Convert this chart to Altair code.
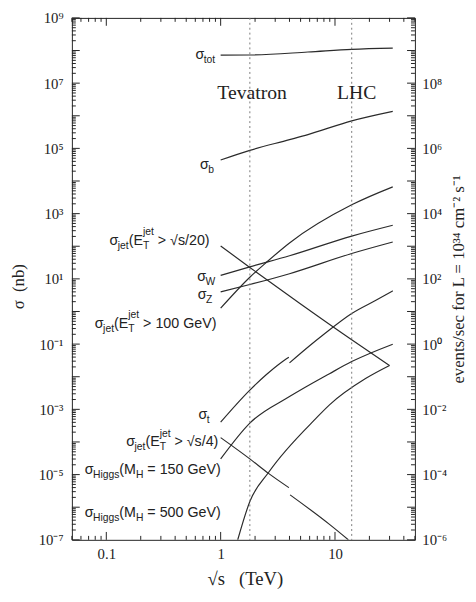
import math
import altair as alt
import pandas as pd

# ---------------- values (sqrt(s) in TeV, sigma in nb) ----------------
E_tot = [1.0, 1.8, 5.8, 14, 32]
S_tot = [7.2e7, 7.3e7, 9.0e7, 1.09e8, 1.19e8]

E_b = [1.0, 1.8, 4.0, 5.8, 14, 32]
S_b = [4.4e4, 8.7e4, 1.85e5, 2.65e5, 7.0e5, 1.37e6]

E_jet20 = [1.0, 1.8, 4.9, 14, 30]
S_jet20 = [102, 22.4, 1.78, 0.135, 0.022]

E_W = [1.0, 1.8, 4.0, 14, 32]
S_W = [12.8, 23.4, 51, 205, 440]

E_Z = [1.0, 1.8, 4.0, 14, 32]
S_Z = [4.0, 6.7, 14.4, 60, 135]

E_jet100 = [1.0, 1.8, 2.5, 4.0, 14, 32]
S_jet100 = [1.26, 11.2, 31.6, 126, 1860, 6600]

E_t_ppbar = [1.0, 1.8, 2.5, 3.3, 3.95]
S_t_ppbar = [4.06e-4, 3.89e-3, 1.15e-2, 2.56e-2, 3.94e-2]
E_t_pp = [4.0, 6.0, 8.0, 14, 23, 32]
S_t_pp = [2.66e-2, 8.9e-2, 0.20, 0.87, 2.25, 4.3]

E_H150 = [1.0, 1.8, 4.0, 8.95, 14, 32]
S_H150 = [3.03e-5, 3.8e-4, 2.46e-3, 1.24e-2, 2.91e-2, 9.93e-2]

E_jet4_ppbar = [1.0, 1.8, 2.64, 3.95]
S_jet4_ppbar = [1.36e-4, 3.03e-5, 1.07e-5, 3.98e-6]
E_jet4_pp = [4.05, 8.95, 13.1]
S_jet4_pp = [2.39e-6, 2.98e-7, 1.0e-7]

E_H500 = [1.41, 1.8, 2.64, 6.88, 8.95, 18.5, 30]
S_H500 = [1.0e-7, 1.5e-6, 1.2e-5, 5.46e-4, 1.37e-3, 8.75e-3, 2.2e-2]

# colliders
coll_names = ["Tevatron", "LHC"]
coll_E = [1.8, 14]
coll_text_E = [0.935, 10.4]
coll_text_S = [3.16e6, 3.16e6]

# curve labels: anchor (right end, baseline) in data coordinates + text parts
label_E = [0.895, 0.875, 0.80, 0.895, 0.845, 0.918, 0.80, 0.955, 1.0, 1.0]
label_S = [5.4e7, 2.3e4, 110, 8.4, 2.4, 0.32, 5.1e-4, 7.3e-5, 1.07e-5, 5.0e-7]
NB = "\u00a0"
label_parts = [
    [("σ", "main"), ("tot", "sub")],
    [("σ", "main"), ("b", "sub")],
    [("σ", "main"), ("jet", "sub"), ("(E", "main"), ("T", "sub"), ("jet", "sup"), (NB + ">" + NB + "√s/20)", "main")],
    [("σ", "main"), ("W", "sub")],
    [("σ", "main"), ("Z", "sub")],
    [("σ", "main"), ("jet", "sub"), ("(E", "main"), ("T", "sub"), ("jet", "sup"), (NB + ">" + NB + "100" + NB + "GeV)", "main")],
    [("σ", "main"), ("t", "sub")],
    [("σ", "main"), ("jet", "sub"), ("(E", "main"), ("T", "sub"), ("jet", "sup"), (NB + ">" + NB + "√s/4)", "main")],
    [("σ", "main"), ("Higgs", "sub"), ("(M", "main"), ("H", "sub"), (NB + "=" + NB + "150" + NB + "GeV)", "main")],
    [("σ", "main"), ("Higgs", "sub"), ("(M", "main"), ("H", "sub"), (NB + "=" + NB + "500" + NB + "GeV)", "main")],
]

# axis tick labels
x_tick_vals = [0.1, 1, 10]
x_tick_text = ["0.1", "1", "10"]
y_left_vals = [1e-7, 1e-5, 1e-3, 1e-1, 1e1, 1e3, 1e5, 1e7, 1e9]
y_left_text = ["10⁻⁷", "10⁻⁵", "10⁻³", "10⁻¹", "10¹", "10³", "10⁵", "10⁷", "10⁹"]
y_right_vals = [1e-6, 1e-4, 1e-2, 1e0, 1e2, 1e4, 1e6, 1e8]
y_right_text = ["10⁻⁶", "10⁻⁴", "10⁻²", "10⁰", "10²", "10⁴", "10⁶", "10⁸"]

# ---------------- layout / style ----------------
W, H = 349, 531
X_DOMAIN = [0.05, 50]
Y_DOMAIN = [1e-7, 1e9]
INK = "#222222"
SERIF = "Liberation Serif"
SANS = "Liberation Sans"
MAIN_FS, SUB_FS = 14.5, 10.5
SUB_DY, SUP_DY = 4, -10

xscale = alt.Scale(type="log", domain=X_DOMAIN, nice=False)
yscale = alt.Scale(type="log", domain=Y_DOMAIN, nice=False)


def label_expr(vals, texts):
    expr = "''"
    for v, t in reversed(list(zip(vals, texts))):
        expr = f"abs(log(datum.value)/LN10 - ({round(math.log10(v))})) < 0.1 ? '{t}' : ({expr})"
    return expr


x_axis = alt.Axis(
    values=x_tick_vals, labelExpr=label_expr(x_tick_vals, x_tick_text), ticks=False, domain=False,
    grid=False, labelFont=SERIF, labelFontSize=15, labelColor=INK, labelPadding=7,
    labelOverlap=False, labelFlush=False,
    title="√s" + NB * 3 + "(TeV)", titleFont=SERIF, titleFontSize=19, titleFontWeight="normal",
    titleColor=INK, titleX=176, titleY=45, titleBaseline="alphabetic", titleAlign="center",
)
y_axis = alt.Axis(
    values=y_left_vals, labelExpr=label_expr(y_left_vals, y_left_text), ticks=False, domain=False,
    grid=False, labelFont=SERIF, labelFontSize=15, labelColor=INK, labelPadding=9,
    labelOverlap=False, labelFlush=False,
    title="σ" + NB * 2 + "(nb)", titleFont=SERIF, titleFontSize=17, titleFontWeight="normal",
    titleColor=INK, titleX=-54, titleY=273, titleAngle=270, titleBaseline="middle", titleAlign="center",
)


def X(field):
    return alt.X(field, scale=xscale, axis=x_axis)


def Y(field):
    return alt.Y(field, scale=yscale, axis=y_axis)


# ---------------- curves ----------------
curves = [
    ("tot", E_tot, S_tot), ("b", E_b, S_b), ("jet20", E_jet20, S_jet20),
    ("W", E_W, S_W), ("Z", E_Z, S_Z), ("jet100", E_jet100, S_jet100),
    ("t_ppbar", E_t_ppbar, S_t_ppbar), ("t_pp", E_t_pp, S_t_pp),
    ("H150", E_H150, S_H150), ("jet4_ppbar", E_jet4_ppbar, S_jet4_ppbar),
    ("jet4_pp", E_jet4_pp, S_jet4_pp), ("H500", E_H500, S_H500),
]
rows = []
for name, Es, Ss in curves:
    for i, (e, s) in enumerate(zip(Es, Ss)):
        rows.append({"curve": name, "E": e, "S": s, "i": i})
df_curves = pd.DataFrame(rows)

lines = alt.Chart(df_curves).mark_line(
    color="#2b2b2b", strokeWidth=1.2, clip=True, interpolate="monotone"
).encode(x=X("E:Q"), y=Y("S:Q"), detail="curve:N", order="i:Q")

vlines = alt.Chart(pd.DataFrame({"E": coll_E})).mark_rule(
    color="#7a7a7a", strokeDash=[2, 3], strokeWidth=1
).encode(x=X("E:Q"))

ctext = alt.Chart(pd.DataFrame({"E": coll_text_E, "S": coll_text_S, "t": coll_names})).mark_text(
    align="left", baseline="alphabetic", font=SERIF, fontSize=20, color=INK
).encode(x=X("E:Q"), y=Y("S:Q"), text="t:N")

# ---------------- curve labels built from pieces (sub/superscripts) ----------------
WID = {" ": 0.278, NB: 0.278, "(": 0.333, ")": 0.333, ">": 0.584, "=": 0.584, "/": 0.278,
       "E": 0.667, "G": 0.778, "H": 0.722, "M": 0.833, "T": 0.611, "V": 0.667, "W": 0.944,
       "Z": 0.611, "b": 0.556, "e": 0.556, "g": 0.556, "i": 0.222, "j": 0.222, "l": 0.222,
       "o": 0.556, "s": 0.5, "t": 0.278, "√": 0.549, "σ": 0.58}
for d in "0123456789":
    WID[d] = 0.556


def tw(s, fs):
    return sum(WID.get(c, 0.556) for c in s) * fs


label_layers = []
for e, s, parts in zip(label_E, label_S, label_parts):
    cursor = 0.0
    last_sub_x = 0.0
    placed = []
    for text, role in parts:
        fs = MAIN_FS if role == "main" else SUB_FS
        lead = len(text) - len(text.lstrip(NB))
        if lead:
            cursor += tw(NB * lead, fs)
            text = text[lead:]
        w = tw(text, fs)
        if role == "sup":
            x0 = last_sub_x
            cursor = max(cursor, x0 + w)
        else:
            x0 = cursor
            cursor += w
            if role == "sub":
                last_sub_x = x0
        dy = 0 if role == "main" else (SUB_DY if role == "sub" else SUP_DY)
        placed.append((text, x0, dy, fs))
    total = cursor
    for text, x0, dy, fs in placed:
        label_layers.append(
            alt.Chart(pd.DataFrame({"E": [e], "S": [s], "text": [text]})).mark_text(
                align="left", baseline="alphabetic", font=SANS, color=INK,
                fontSize=fs, dx=round(x0 - total, 2), dy=dy,
            ).encode(x=X("E:Q"), y=Y("S:Q"), text="text:N")
        )

# ---------------- inward tick marks on all four sides ----------------
def log_ticks(lo, hi):
    major, minor = [], []
    k = math.floor(math.log10(lo)) - 1
    while 10 ** k <= hi * 1.0001:
        for m in range(1, 10):
            v = m * 10.0 ** k
            if lo * 0.9999 <= v <= hi * 1.0001:
                (major if m == 1 else minor).append(v)
        k += 1
    return major, minor


xmaj, xmin = log_ticks(*X_DOMAIN)
ymaj, ymin = log_ticks(*Y_DOMAIN)
MAJ_L, MIN_L = 8, 4


def tick_layer(vals, side, L):
    base = alt.Chart(pd.DataFrame({"v": vals})).mark_rule(color=INK, strokeWidth=1)
    if side == "left":
        return base.encode(y=Y("v:Q"), x=alt.value(0), x2=alt.value(L))
    if side == "right":
        return base.encode(y=Y("v:Q"), x=alt.value(W), x2=alt.value(W - L))
    if side == "top":
        return base.encode(x=X("v:Q"), y=alt.value(0), y2=alt.value(L))
    return base.encode(x=X("v:Q"), y=alt.value(H), y2=alt.value(H - L))


tick_layers = []
for side in ("left", "right"):
    tick_layers.append(tick_layer(ymaj, side, MAJ_L))
    tick_layers.append(tick_layer(ymin, side, MIN_L))
for side in ("top", "bottom"):
    tick_layers.append(tick_layer(xmaj, side, MAJ_L))
    tick_layers.append(tick_layer(xmin, side, MIN_L))

main = alt.layer(lines, vlines, ctext, *label_layers, *tick_layers)

# ---------------- right axis: events/sec for L = 1e34 cm^-2 s^-1 (= 10 x sigma[nb]) ----------------
right = alt.Chart(pd.DataFrame({"ev": y_right_vals})).mark_point(opacity=0).encode(
    y=alt.Y(
        "ev:Q",
        scale=alt.Scale(type="log", domain=[Y_DOMAIN[0] * 10, Y_DOMAIN[1] * 10], nice=False),
        axis=alt.Axis(
            orient="right", values=y_right_vals, labelExpr=label_expr(y_right_vals, y_right_text),
            ticks=False, domain=False, grid=False, labelFont=SERIF, labelFontSize=15,
            labelColor=INK, labelPadding=7, labelOverlap=False, labelFlush=False,
            title="events/sec for L = 10³⁴ cm⁻² s⁻¹", titleFont=SERIF, titleFontSize=17,
            titleFontWeight="normal", titleColor=INK, titleX=44, titleY=H / 2,
            titleAngle=270, titleBaseline="middle", titleAlign="center",
        ),
    )
)

chart = alt.layer(main, right).resolve_scale(y="independent").properties(
    width=W, height=H,
    autosize=alt.AutoSizeParams(type="none"),
    padding={"left": 65, "top": 5, "right": 54, "bottom": 48},
    background="white",
).configure_view(stroke=INK, strokeWidth=1)

chart.save("out.html", embed_options={"renderer": "svg", "actions": False})
